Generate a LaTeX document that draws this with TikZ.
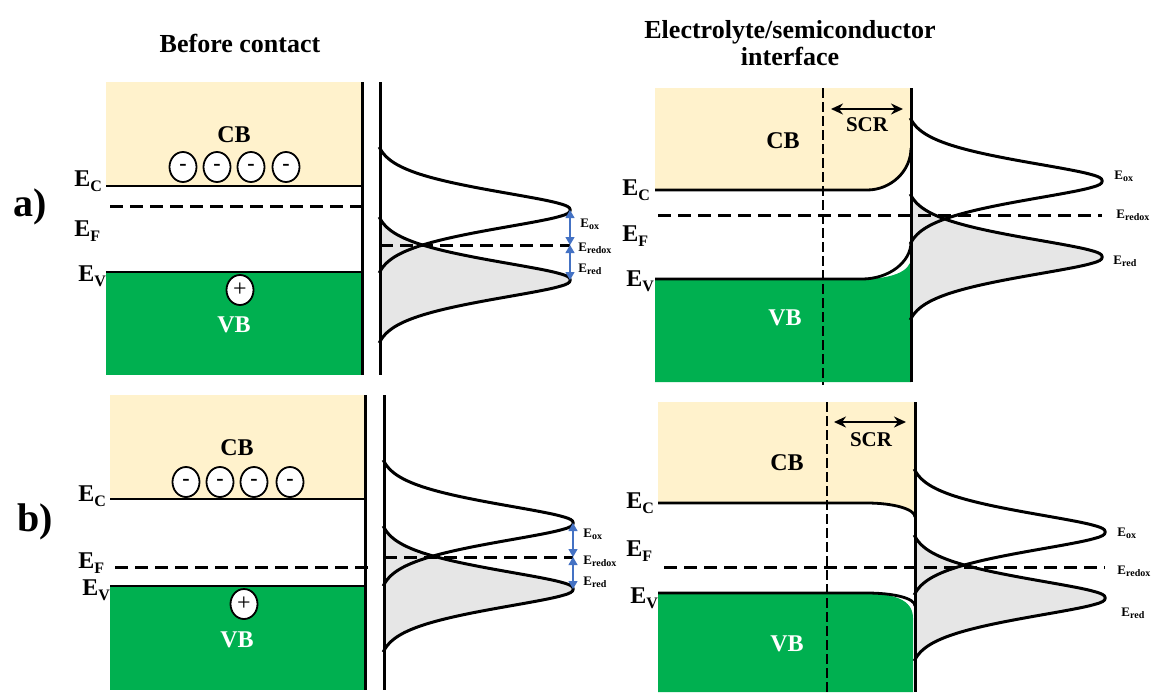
\documentclass[tikz,border=0pt]{standalone}
\usepackage{fontspec}
\setmainfont{Liberation Serif}[BoldFont={Liberation Serif Bold}]
\usetikzlibrary{arrows.meta,shapes.geometric}
\definecolor{cbcol}{HTML}{FFF2CC}
\definecolor{vbcol}{HTML}{00B050}
\definecolor{dosgrey}{HTML}{E6E6E6}
\definecolor{arrblue}{HTML}{4472C4}
\newcommand\BigE[1]{{\fontsize{12}{12}\selectfont\bfseries E\raisebox{-0.22em}{\fontsize{8}{8}\selectfont #1}}}
\newcommand\SmE[1]{{\fontsize{6.5}{6.5}\selectfont\bfseries E\raisebox{-0.2em}{\fontsize{5}{5}\selectfont #1}}}
% #1 axis x, #2 peak y, #3 amplitude
\newcommand\DOSdraw[3]{\draw[dosline] plot[domain=-63:63,samples=90,smooth,variable=\t] ({#1+#3*(exp(-pow((sqrt(\t*\t+16)-4)/25+0.0001,1.5))-0.03)/0.97},{#2+\t});}
\newcommand\DOSfill[3]{\fill[dosgrey] plot[domain=-63:63,samples=90,smooth,variable=\t] ({#1+#3*(exp(-pow((sqrt(\t*\t+16)-4)/25+0.0001,1.5))-0.03)/0.97},{#2+\t}) -- cycle;}
\begin{document}
\begin{tikzpicture}[x=0.5pt,y=-0.5pt,
 band/.style={line width=1.4pt},
 dosline/.style={line width=1.5pt},
 axisline/.style={line width=1.5pt},
 fermi/.style={line width=1.5pt, dash pattern=on 6.5pt off 3.5pt},
 vdash/.style={line width=1.2pt, dash pattern=on 5pt off 2pt},
 charge/.style={ellipse, draw, line width=0.9pt, fill=white, minimum width=13.5pt, minimum height=15pt, inner sep=0pt, font=\fontsize{11}{11}\selectfont\bfseries},
 bandlab/.style={font=\fontsize{12}{12}\selectfont\bfseries, inner sep=0pt},
 elab/.style={anchor=base west, inner sep=0pt},
 title/.style={font=\fontsize{13}{13.5}\selectfont\bfseries, align=center, inner sep=0pt},
 panel/.style={font=\fontsize{20}{20}\selectfont\bfseries, inner sep=0pt},
 barrow/.style={arrblue, line width=0.6pt, {Triangle[width=4.5pt,length=4pt]}-{Triangle[width=4.5pt,length=4pt]}},
 scrarrow/.style={line width=1.4pt, {Stealth[length=6pt,width=5.5pt]}-{Stealth[length=6pt,width=5.5pt]}},
]
\useasboundingbox (0,0) rectangle (1155,692);

% titles
\node[title] (t1) at (240,43) {Before contact};
\node[title] (t2) at (790,43) {Electrolyte/semiconductor\\interface};
\node[panel] (pa) at (30,207) {a)};
\node[panel] (pb) at (35,522) {b)};

% ================= panel a, before contact =================
\fill[cbcol] (106,82) rectangle (362,186);
\fill[vbcol] (106,272) rectangle (362,375);
\draw[band] (106,186) -- (362,186);
\draw[band] (106,272) -- (362,272);
\draw[fermi] (110,206) -- (366,206);
\draw[axisline] (362,82) -- (362,375);
\node[bandlab] (cb1) at (234,135) {CB};
\node[bandlab, white] (vb1) at (234,325) {VB};
\node[charge] (e11) at (183,167) {-};
\node[charge] (e12) at (217,167) {-};
\node[charge] (e13) at (251,167) {-};
\node[charge] (e14) at (286,167) {-};
\node[charge, font=\fontsize{12}{12}\selectfont] (h1) at (240,290) {+};
\node[elab] (ec1) at (74,186) {\BigE{C}};
\node[elab] (ef1) at (74,236) {\BigE{F}};
\node[elab] (ev1) at (78,281) {\BigE{V}};
\DOSfill{380}{280}{190}
\DOSdraw{380}{280}{190}
\DOSdraw{380}{210}{190}
\coordinate (aox) at (570,210);
\coordinate (aredox) at (570,245);
\coordinate (ared) at (570,280);
\coordinate (aaxis) at (380,245);
\draw[fermi] (aaxis) -- (aredox);
\draw[axisline] (380,82) -- (380,375);
\draw[barrow] (aox) -- (aredox);
\draw[barrow] (aredox) -- (ared);
\node[elab] (lox1) at (580,227) {\SmE{ox}};
\node[elab] (lrx1) at (578,251) {\SmE{redox}};
\node[elab] (lrd1) at (578,272) {\SmE{red}};

% ================= panel a, interface =================
\fill[cbcol] (655,88) -- (911,88) -- (911,148) .. controls (911,171) and (891,190) .. (867,190) -- (655,190) -- cycle;
\fill[vbcol] (655,279) -- (862,279) .. controls (890,279) and (911,272) .. (911,258) -- (911,382) -- (655,382) -- cycle;
\draw[band] (655,190) -- (867,190) .. controls (891,190) and (911,171) .. (911,148);
\draw[band] (655,279) -- (862,279) .. controls (889,279) and (911,262) .. (911,242);
\draw[vdash] (823,88) -- (823,385);
\DOSfill{911}{257}{191}
\DOSdraw{911}{257}{191}
\DOSdraw{911}{181}{191}
\coordinate (fa1) at (658,215);
\coordinate (fa2) at (1102,215);
\draw[fermi] (fa1) -- (fa2);
\draw[axisline] (911,88) -- (911,382);
\coordinate (scra1) at (831,109);
\coordinate (scra2) at (903,109);
\draw[scrarrow] (scra1) -- (scra2);
\node[bandlab, font=\fontsize{10.5}{10.5}\selectfont\bfseries] (scr1) at (867,125) {SCR};
\node[bandlab] (cb2) at (783,141) {CB};
\node[bandlab, white] (vb2) at (785,318) {VB};
\node[elab] (ec2) at (622,195) {\BigE{C}};
\node[elab] (ef2) at (622,241) {\BigE{F}};
\node[elab] (ev2) at (626,286) {\BigE{V}};
\node[elab] (lox2) at (1114,179) {\SmE{ox}};
\node[elab] (lrx2) at (1116,218) {\SmE{redox}};
\node[elab] (lrd2) at (1113,264) {\SmE{red}};

% ================= panel b, before contact =================
\fill[cbcol] (110,395) rectangle (365,499);
\fill[vbcol] (110,586) rectangle (365,690);
\draw[band] (110,499) -- (365,499);
\draw[band] (110,586) -- (365,586);
\draw[fermi] (115,567) -- (369,567);
\draw[axisline] (365,395) -- (365,690);
\node[bandlab] (cb3) at (237,448) {CB};
\node[bandlab, white] (vb3) at (237,640) {VB};
\node[charge] (e31) at (186,482) {-};
\node[charge] (e32) at (220,482) {-};
\node[charge] (e33) at (254,482) {-};
\node[charge] (e34) at (290,482) {-};
\node[charge, font=\fontsize{12}{12}\selectfont] (h3) at (244,604) {+};
\node[elab] (ec3) at (78,501) {\BigE{C}};
\node[elab] (ef3) at (78,568) {\BigE{F}};
\node[elab] (ev3) at (82,595) {\BigE{V}};
\DOSfill{384}{589}{189}
\DOSdraw{384}{589}{189}
\DOSdraw{384}{523}{189}
\coordinate (box) at (573,523);
\coordinate (bredox) at (573,557);
\coordinate (bred) at (573,589);
\coordinate (baxis) at (384,557);
\draw[fermi] (baxis) -- (bredox);
\draw[axisline] (384,395) -- (384,690);
\draw[barrow] (box) -- (bredox);
\draw[barrow] (bredox) -- (bred);
\node[elab] (lox3) at (583,537) {\SmE{ox}};
\node[elab] (lrx3) at (583,564) {\SmE{redox}};
\node[elab] (lrd3) at (583,585) {\SmE{red}};

% ================= panel b, interface =================
\fill[cbcol] (658,402) -- (915,402) -- (915,517) .. controls (915,509) and (893,503) .. (867,503) -- (658,503) -- cycle;
\fill[vbcol] (658,593) -- (860,593) .. controls (895,593) and (913,600) .. (913,618) -- (913,692) -- (658,692) -- cycle;
\draw[band] (658,503) -- (867,503) .. controls (893,503) and (915,509) .. (915,517);
\draw[band] (658,593) -- (867,593) .. controls (893,593) and (915,598) .. (915,606);
\draw[vdash] (827,402) -- (827,692);
\DOSfill{915}{598}{190}
\DOSdraw{915}{598}{190}
\DOSdraw{915}{532}{190}
\coordinate (fb1) at (664,567);
\coordinate (fb2) at (1105,567);
\draw[fermi] (fb1) -- (fb2);
\draw[axisline] (915,402) -- (915,692);
\coordinate (scrb1) at (834,422);
\coordinate (scrb2) at (906,422);
\draw[scrarrow] (scrb1) -- (scrb2);
\node[bandlab, font=\fontsize{10.5}{10.5}\selectfont\bfseries] (scr2) at (871,440) {SCR};
\node[bandlab] (cb4) at (787,463) {CB};
\node[bandlab, white] (vb4) at (787,644) {VB};
\node[elab] (ec4) at (626,508) {\BigE{C}};
\node[elab] (ef4) at (626,556) {\BigE{F}};
\node[elab] (ev4) at (630,603) {\BigE{V}};
\node[elab] (lox4) at (1117,536) {\SmE{ox}};
\node[elab] (lrx4) at (1117,574) {\SmE{redox}};
\node[elab] (lrd4) at (1121,616) {\SmE{red}};
\end{tikzpicture}
\end{document}
